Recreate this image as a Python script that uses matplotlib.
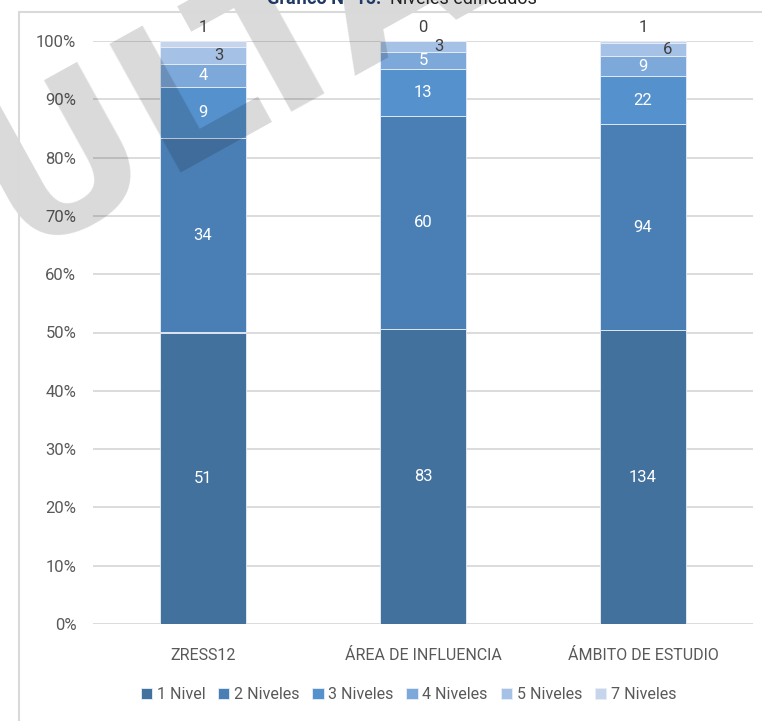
import matplotlib
matplotlib.use('Agg')
import matplotlib.pyplot as plt
from matplotlib.patches import Rectangle
import numpy as np

plt.rcParams['font.family'] = ['Roboto', 'DejaVu Sans']

# data
categories = ['ZRESS12', 'ÁREA DE INFLUENCIA', 'ÁMBITO DE ESTUDIO']
series_names = ['1 Nivel', '2 Niveles', '3 Niveles', '4 Niveles', '5 Niveles', '7 Niveles']
nivel_1 = [51, 83, 134]
niveles_2 = [34, 60, 94]
niveles_3 = [9, 13, 22]
niveles_4 = [4, 5, 9]
niveles_5 = [3, 3, 6]
niveles_7 = [1, 0, 1]

series = [nivel_1, niveles_2, niveles_3, niveles_4, niveles_5, niveles_7]
colors = ['#41719C', '#4A7FB5', '#5592CD', '#7DA8DA', '#A5C1E5', '#C6D5EC']
label_colors = ['white', 'white', 'white', 'white', '#404040', '#404040']
# small horizontal nudges of the "5 Niveles" labels, like the original
nudge_5 = [0.073, 0.073, 0.11]

counts = np.array(series, dtype=float)
totals = counts.sum(axis=0)
pct = counts / totals * 100

fig = plt.figure(figsize=(7.62, 7.21), dpi=100)
ax = fig.add_axes([93 / 762, 1 - 624 / 721, 660 / 762, 583 / 721])

x = np.arange(len(categories))
bottom = np.zeros(len(categories))
for i, name in enumerate(series_names):
    ax.bar(x, pct[i], 0.395, bottom=bottom, color=colors[i], label=name,
           edgecolor='#E8EEF7', linewidth=0.6, zorder=3)
    for j in range(len(categories)):
        val = int(counts[i, j])
        if i == 5:
            ax.text(x[j], 101.0, str(val), ha='center', va='bottom',
                    fontsize=12, color='#404040', zorder=5)
            continue
        yc = bottom[j] + pct[i, j] / 2
        xc = x[j]
        if i == 4:
            xc = x[j] + nudge_5[j]
        ax.text(xc, yc, str(val), ha='center', va='center', fontsize=12,
                color=label_colors[i], zorder=5)
    bottom += pct[i]

ax.set_xlim(-0.5, 2.5)
ax.set_ylim(0, 100)
ax.set_yticks(np.arange(0, 101, 10))
ax.set_yticklabels([f'{v}%' for v in range(0, 101, 10)])
ax.set_xticks(x)
ax.set_xticklabels(categories)
ax.tick_params(axis='both', length=0, colors='#595959')
ax.tick_params(axis='y', pad=12, labelsize=12)
ax.tick_params(axis='x', pad=17, labelsize=11.5)
ax.yaxis.grid(True, color='#D9D9D9', linewidth=1.3, zorder=0)
ax.set_axisbelow(True)
for s in ax.spines.values():
    s.set_visible(False)

leg = ax.legend(loc='upper center', bbox_to_anchor=(0.478, -0.083), ncol=6,
                frameon=False, fontsize=11.5, handlelength=0.7, handleheight=0.7,
                handletextpad=0.3, columnspacing=0.8, labelcolor='#595959')

# chart frame
fig.patches.append(Rectangle((19 / 762, -0.1), 1.2, 1.1 - 12 / 721,
                             transform=fig.transFigure, fill=False,
                             edgecolor='#D9D9D9', linewidth=1.5))

# title (cut at the top in the original)
fig.text(267 / 762, 1 - 4 / 721, 'Gráfico N° 15:', fontsize=13, fontweight='bold',
         color='#1F3864', ha='left', va='baseline')
fig.text(390 / 762, 1 - 4 / 721, 'Niveles edificados', fontsize=13,
         color='#202020', ha='left', va='baseline')

# watermark, above the bars but under the labels
ax.text(490 / 762, 1 + 4 / 721, 'CONSULTA', fontsize=145, fontweight='bold',
        family='DejaVu Sans', color='black', alpha=0.15, rotation=29,
        rotation_mode='anchor', ha='right', va='baseline',
        transform=fig.transFigure, clip_on=False, zorder=4)

fig.savefig('out.png', dpi=100)
